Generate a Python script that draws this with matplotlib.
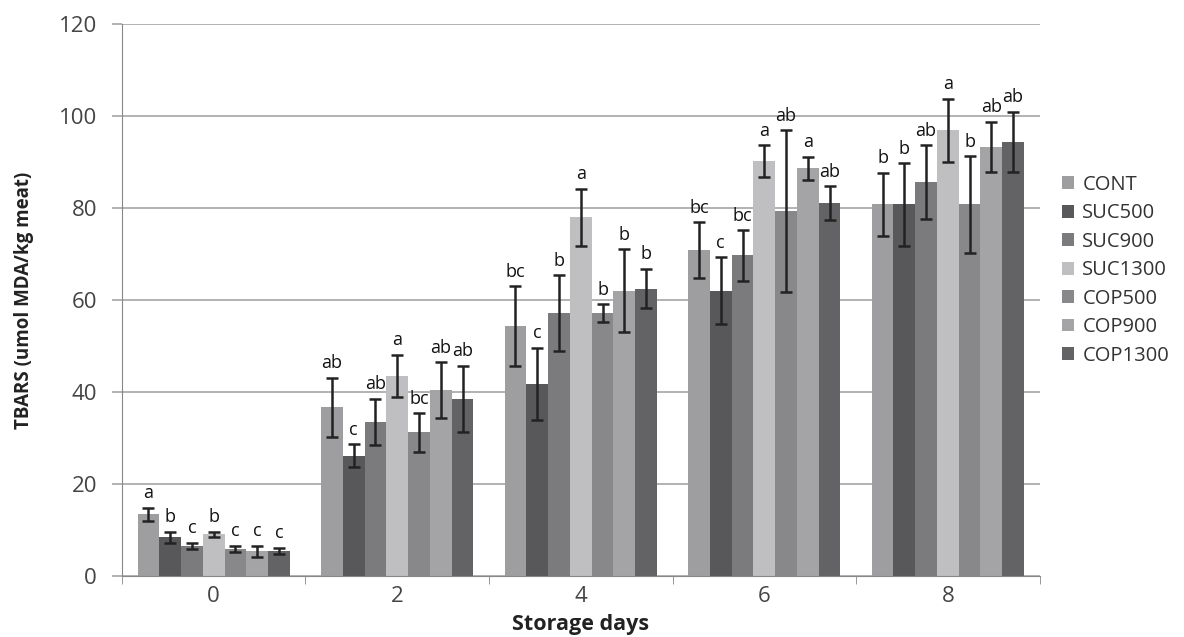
import numpy as np
import matplotlib
matplotlib.use("Agg")
import matplotlib.pyplot as plt

plt.rcParams['font.family'] = ['Open Sans', 'DejaVu Sans']

days = ["0", "2", "4", "6", "8"]
series = ["CONT", "SUC500", "SUC900", "SUC1300", "COP500", "COP900", "COP1300"]
colors = ["#9e9ea0", "#58585a", "#7b7b7d", "#bfbfc1", "#88888a", "#a4a4a6", "#636365"]

# mean values per treatment, one value per storage day
cont = [13.4, 36.7, 54.3, 70.8, 80.8]
suc500 = [8.4, 26.1, 41.8, 62.0, 80.8]
suc900 = [6.5, 33.5, 57.2, 69.7, 85.7]
suc1300 = [9.0, 43.5, 78.0, 90.2, 96.9]
cop500 = [5.9, 31.2, 57.2, 79.3, 80.8]
cop900 = [5.4, 40.4, 62.0, 88.7, 93.3]
cop1300 = [5.4, 38.5, 62.5, 81.1, 94.4]

cont_err = [1.45, 6.4, 8.7, 6.1, 6.9]
suc500_err = [1.15, 2.5, 7.8, 7.3, 9.0]
suc900_err = [0.65, 5.0, 8.2, 5.5, 8.0]
suc1300_err = [0.6, 4.6, 6.2, 3.5, 6.9]
cop500_err = [0.7, 4.2, 1.9, 17.6, 10.5]
cop900_err = [1.2, 6.1, 9.0, 2.5, 5.5]
cop1300_err = [0.7, 7.2, 4.3, 3.7, 6.6]

cont_lab = ["a", "ab", "bc", "bc", "b"]
suc500_lab = ["b", "c", "c", "c", "b"]
suc900_lab = ["c", "ab", "b", "bc", "ab"]
suc1300_lab = ["b", "a", "a", "a", "a"]
cop500_lab = ["c", "bc", "b", "ab", "b"]
cop900_lab = ["c", "ab", "b", "a", "ab"]
cop1300_lab = ["c", "ab", "b", "ab", "ab"]

values = [cont, suc500, suc900, suc1300, cop500, cop900, cop1300]
errors = [cont_err, suc500_err, suc900_err, suc1300_err, cop500_err, cop900_err, cop1300_err]
labels = [cont_lab, suc500_lab, suc900_lab, suc1300_lab, cop500_lab, cop900_lab, cop1300_lab]

fig = plt.figure(figsize=(11.84, 6.37), dpi=100)
ax = fig.add_axes([0.103, 0.096, 0.775, 0.866])

x = np.arange(len(days))
n = len(series)
w = 0.83 / n
for i in range(n):
    pos = x - 0.415 + w * (i + 0.5)
    ax.bar(pos, values[i], width=w, color=colors[i], label=series[i], zorder=2)
    ax.errorbar(pos, values[i], yerr=errors[i], fmt='none', ecolor='#222222',
                elinewidth=1.8, capsize=4, capthick=1.8, zorder=3)
    for j in range(len(days)):
        ax.text(pos[j], values[i][j] + errors[i][j] + 1.2, labels[i][j],
                ha='center', va='bottom', fontsize=13, color='#111111')

ax.set_xlim(-0.5, 4.5)
ax.set_ylim(0, 120)
ax.set_yticks(range(0, 121, 20))
ax.set_xticks(x)
ax.set_xticklabels(days)
ax.set_xticks(np.arange(-0.5, 4.6, 1), minor=True)
ax.tick_params(axis='x', which='major', length=0, labelsize=16, colors='#444444', pad=7)
ax.tick_params(axis='x', which='minor', length=6, color='#888888')
ax.tick_params(axis='y', length=7, width=1.2, color='#a6a6a6', labelsize=16,
               labelcolor='#444444', pad=11)
ax.grid(axis='y', color='#a6a6a6', linewidth=1.2, zorder=0)
ax.set_axisbelow(True)
for s in ['top', 'right']:
    ax.spines[s].set_visible(False)
ax.spines['left'].set_color('#888888')
ax.spines['bottom'].set_color('#888888')

ax.set_xlabel("Storage days", fontsize=15.5, fontweight='bold', labelpad=5, color='#222222')
ax.set_ylabel("TBARS (umol MDA/kg meat)", fontsize=13.5, fontweight='bold', labelpad=18,
              color='#222222')

ax.legend(loc='center left', bbox_to_anchor=(1.005, 0.554), frameon=False,
          fontsize=14.5, handlelength=0.6, handleheight=0.6, handletextpad=0.4,
          labelspacing=0.42, labelcolor='#333333')

fig.savefig("out.png")
